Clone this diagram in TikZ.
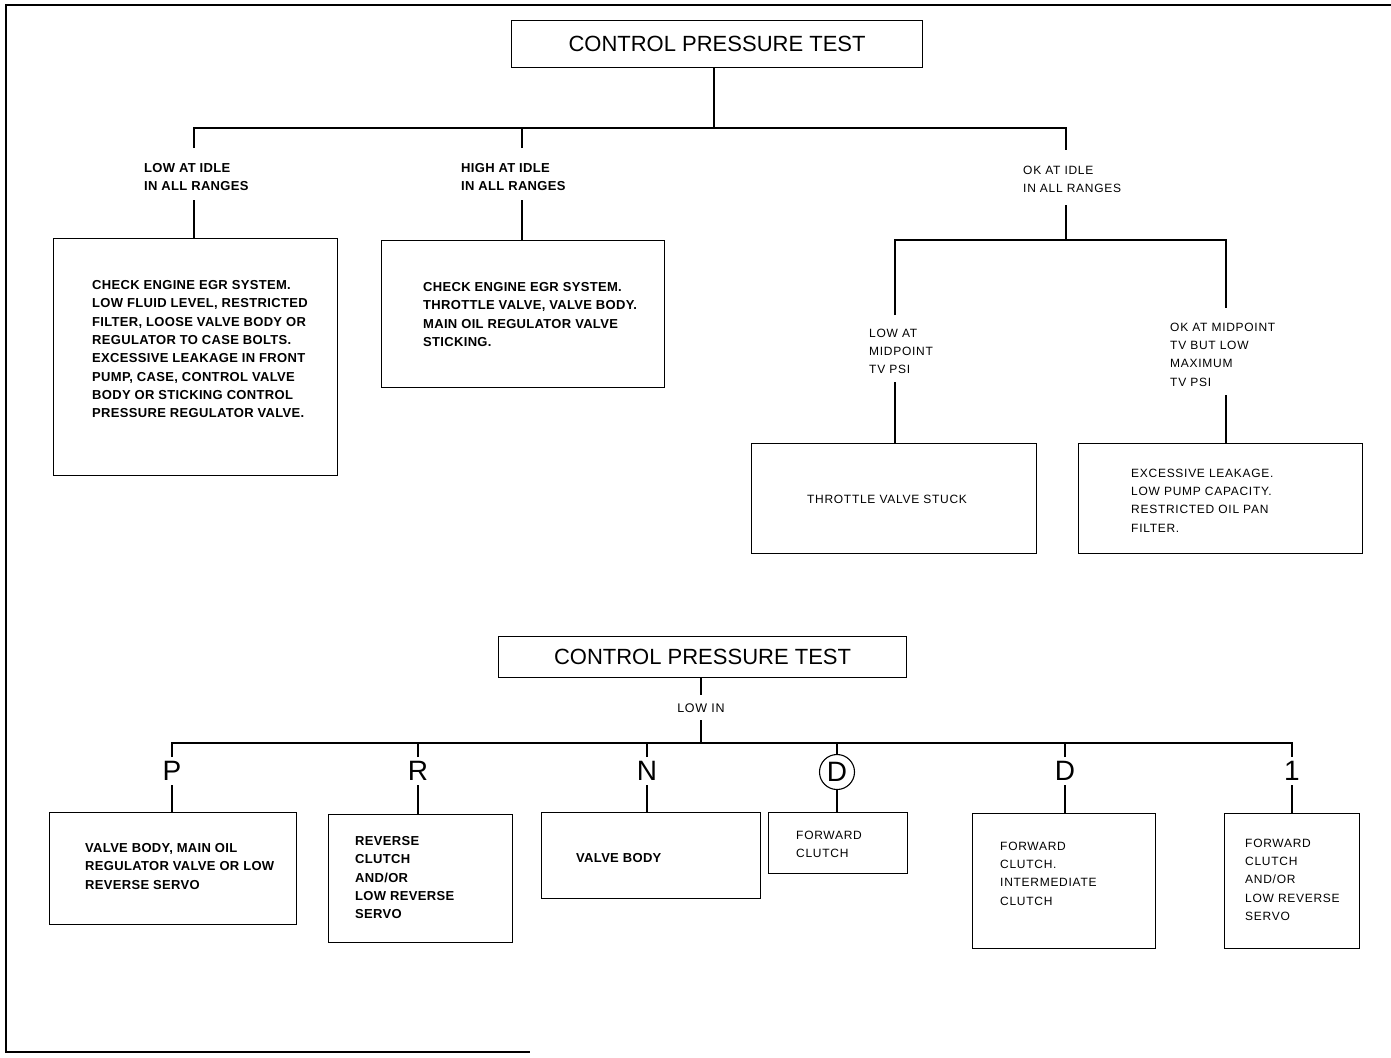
\documentclass[tikz,border=0pt]{standalone}
\usepackage{fontspec}
\setmainfont{Liberation Sans}
\newfontfamily\spaced[LetterSpace=6]{Liberation Sans}
\newfontfamily\heavy[LetterSpace=2.5]{Liberation Sans Bold}
\begin{document}
\begin{tikzpicture}[x=1pt,y=-1pt,
  box/.style={draw, line width=1.1pt, inner sep=0pt, anchor=north west},
  ttl/.style={font=\fontsize{22}{24}\selectfont},
  btxt/.style={inner sep=0pt, anchor=north west, align=left, font=\fontsize{13}{18.3}\selectfont\heavy},
  ltxt/.style={inner sep=0pt, anchor=north west, align=left, font=\fontsize{12}{18.3}\selectfont\spaced},
  gear/.style={inner sep=0pt, font=\fontsize{28}{30}\selectfont},
  ln/.style={line width=1.2pt}]
\useasboundingbox (0,0) rectangle (1391,1057);
% frame
\draw[line width=1.5pt] (1391,5) -- (6,5) -- (6,1052) -- (530,1052);

% ---------- upper chart ----------
\node[box, ttl, minimum width=411pt, minimum height=47pt] (t1) at (511,20) {CONTROL PRESSURE TEST};
\coordinate (j1) at (714,128);
\coordinate (aL) at (194,148);
\coordinate (aM) at (522,148);
\coordinate (aR) at (1066,150);
\draw[ln] (t1.south -| j1) -- (j1);
\draw[ln] (aL) -- (aL |- j1) -- (aR |- j1) -- (aR);
\draw[ln] (aM) -- (aM |- j1);

\node[btxt] (lo) at (144,163.4) {LOW AT IDLE\\IN ALL RANGES};
\node[btxt] (hi) at (461,163.4) {HIGH AT IDLE\\IN ALL RANGES};
\node[ltxt] (ok) at (1023,165.7) {OK AT IDLE\\IN ALL RANGES};

\node[box, minimum width=284pt, minimum height=237pt] (bL) at (53,238) {};
\node[box, minimum width=283pt, minimum height=147pt] (bM) at (381,240) {};
\node[btxt] (tL) at (92,280.4) {CHECK ENGINE EGR SYSTEM.\\LOW FLUID LEVEL, RESTRICTED\\FILTER, LOOSE VALVE BODY OR\\REGULATOR TO CASE BOLTS.\\EXCESSIVE LEAKAGE IN FRONT\\PUMP, CASE, CONTROL VALVE\\BODY OR STICKING CONTROL\\PRESSURE REGULATOR VALVE.};
\node[btxt] (tM) at (423,282.4) {CHECK ENGINE EGR SYSTEM.\\THROTTLE VALVE, VALVE BODY.\\MAIN OIL REGULATOR VALVE\\STICKING.};

\coordinate (cL) at (194,200);
\coordinate (cM) at (522,200);
\coordinate (cR) at (1066,205);
\draw[ln] (cL) -- (cL |- bL.north);
\draw[ln] (cM) -- (cM |- bM.north);

\coordinate (j2) at (1066,240);
\coordinate (sL) at (895,315);
\coordinate (sR) at (1226,308);
\draw[ln] (cR) -- (j2);
\draw[ln] (sL) -- (sL |- j2) -- (sR |- j2) -- (sR);

\node[ltxt] (lm) at (869,328.7) {LOW AT\\MIDPOINT\\TV PSI};
\node[ltxt] (om) at (1170,322.7) {OK AT MIDPOINT\\TV BUT LOW\\MAXIMUM\\TV PSI};

\node[box, minimum width=285pt, minimum height=110pt] (bT) at (751,443) {};
\node[box, minimum width=284pt, minimum height=110pt] (bE) at (1078,443) {};
\node[ltxt, anchor=center] (tT) at (887,499) {THROTTLE VALVE STUCK};
\node[ltxt] (tE) at (1131,468.7) {EXCESSIVE LEAKAGE.\\LOW PUMP CAPACITY.\\RESTRICTED OIL PAN\\FILTER.};

\coordinate (dL) at (895,382);
\coordinate (dR) at (1226,395);
\draw[ln] (dL) -- (dL |- bT.north);
\draw[ln] (dR) -- (dR |- bE.north);

% ---------- lower chart ----------
\node[box, ttl, minimum width=408pt, minimum height=41pt] (t2) at (498,636) {CONTROL PRESSURE TEST};
\node[ltxt, anchor=center, font=\fontsize{12.5}{15}\selectfont\spaced] (lowin) at (701,708) {LOW IN};
\coordinate (k1) at (701,695);
\coordinate (k2) at (701,720);
\coordinate (j3) at (701,743);
\draw[ln] (t2.south -| k1) -- (k1);
\draw[ln] (k2) -- (j3);

\node[gear] (gP) at (172,771) {P};
\node[gear] (gR) at (418,771) {R};
\node[gear] (gN) at (647,771) {N};
\node[gear, draw, circle, line width=1.1pt, minimum size=35pt] (gDc) at (837,772) {D};
\node[gear] (gD) at (1065,771) {D};
\node[gear] (g1) at (1292,771) {1};

\coordinate (eP) at (172,757);
\coordinate (eR) at (418,757);
\coordinate (eN) at (647,757);
\coordinate (eD) at (1065,757);
\coordinate (e1) at (1292,757);
\draw[ln] (eP) -- (eP |- j3) -- (e1 |- j3) -- (e1);
\draw[ln] (eR) -- (eR |- j3);
\draw[ln] (eN) -- (eN |- j3);
\draw[ln] (eD) -- (eD |- j3);
\draw[ln] (gDc.north) -- (gDc.north |- j3);

\node[box, minimum width=247pt, minimum height=112pt] (bP) at (49,812) {};
\node[box, minimum width=184pt, minimum height=128pt] (bR) at (328,814) {};
\node[box, minimum width=219pt, minimum height=86pt] (bN) at (541,812) {};
\node[box, minimum width=139pt, minimum height=61pt] (bDc) at (768,812) {};
\node[box, minimum width=183pt, minimum height=135pt] (bD) at (972,813) {};
\node[box, minimum width=135pt, minimum height=135pt] (b1) at (1224,813) {};

\coordinate (fP) at (172,785);
\coordinate (fR) at (418,785);
\coordinate (fN) at (647,785);
\coordinate (fD) at (1065,785);
\coordinate (f1) at (1292,785);
\draw[ln] (fP) -- (fP |- bP.north);
\draw[ln] (fR) -- (fR |- bR.north);
\draw[ln] (fN) -- (fN |- bN.north);
\draw[ln] (fD) -- (fD |- bD.north);
\draw[ln] (f1) -- (f1 |- b1.north);
\draw[ln] (gDc.south) -- (gDc.south |- bDc.north);

\node[btxt] (tP) at (85,843.4) {VALVE BODY, MAIN OIL\\REGULATOR VALVE OR LOW\\REVERSE SERVO};
\node[btxt] (tR) at (355,836.4) {REVERSE\\CLUTCH\\AND/OR\\LOW REVERSE\\SERVO};
\node[btxt, anchor=west] (tN) at (576,858) {VALVE BODY};
\node[ltxt] (tDc) at (796,830.7) {FORWARD\\CLUTCH};
\node[ltxt] (tD) at (1000,841.7) {FORWARD\\CLUTCH.\\INTERMEDIATE\\CLUTCH};
\node[ltxt] (t1b) at (1245,838.7) {FORWARD\\CLUTCH\\AND/OR\\LOW REVERSE\\SERVO};
\end{tikzpicture}
\end{document}
